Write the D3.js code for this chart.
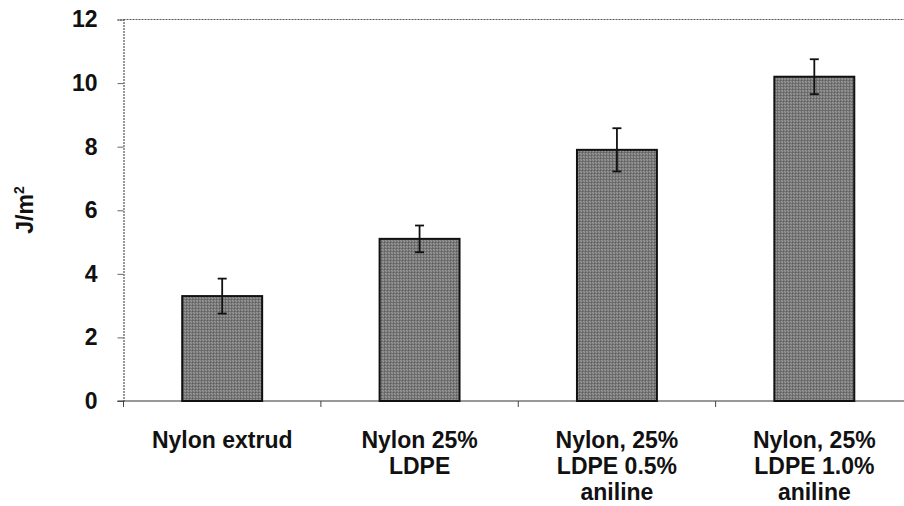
<!DOCTYPE html>
<html>
<head>
<meta charset="utf-8">
<script src="https://cdn.jsdelivr.net/npm/d3@7"></script>
<style>
  body { margin:0; background:#fff; }
  text { font-family: "Liberation Sans", Arial, sans-serif; font-weight: bold; fill:#111; }
</style>
</head>
<body>
<svg id="content" width="904" height="506"></svg>
<script>
// data
const categories = ["Nylon extrud", "Nylon 25%|LDPE", "Nylon, 25%|LDPE 0.5%|aniline", "Nylon, 25%|LDPE 1.0%|aniline"];
const values = [3.3, 5.1, 7.9, 10.2];
const errors = [0.55, 0.42, 0.68, 0.55];
const yTicks = [0, 2, 4, 6, 8, 10, 12];

const config = {
  width: 904, height: 506,
  margin: {top:19.5, right:-9, bottom:105, left:123.5}
};
const fs = 23;

const svg = d3.select("#content");
const innerW = config.width - config.margin.left - config.margin.right;
const innerH = config.height - config.margin.top - config.margin.bottom;

const data = categories.map((c,i) => ({name:c, val:values[i], err:errors[i]}));

const x = d3.scaleBand()
  .domain(categories)
  .range([0, innerW])
  .paddingInner(0.595)
  .paddingOuter(0.2975);

const y = d3.scaleLinear()
  .domain([0, 12])
  .range([innerH, 0]);

// stipple pattern for bars
const defs = svg.append("defs");
const pat = defs.append("pattern")
  .attr("id", "stip")
  .attr("width", 3).attr("height", 3)
  .attr("patternUnits", "userSpaceOnUse");
pat.append("rect").attr("width", 3).attr("height", 3).attr("fill", "#868686");
pat.append("rect").attr("x", 0).attr("y", 0).attr("width", 1).attr("height", 1).attr("fill", "#2a2a2a");
pat.append("rect").attr("x", 2).attr("y", 1).attr("width", 1).attr("height", 1).attr("fill", "#404040");
pat.append("rect").attr("x", 1).attr("y", 2).attr("width", 1).attr("height", 1).attr("fill", "#c8c8c8");

const g = svg.append("g")
  .attr("transform", `translate(${config.margin.left},${config.margin.top})`);

// top frame line
g.append("line")
  .attr("x1", 0).attr("x2", config.width)
  .attr("y1", 0).attr("y2", 0)
  .attr("stroke", "#555").attr("stroke-width", 1)
  .attr("stroke-dasharray", "2,1");

// y axis
const yAxis = g.append("g")
  .call(d3.axisLeft(y).tickValues(yTicks).tickSize(6).tickPadding(20).tickFormat(d3.format("d")));
yAxis.select(".domain").attr("stroke", "#333").attr("stroke-dasharray", "2,1");
yAxis.selectAll(".tick line").attr("stroke", "#666");
yAxis.selectAll(".tick text")
  .attr("font-size", fs)
  .attr("font-family", "Liberation Sans, Arial, sans-serif")
  .attr("font-weight", "bold")
  .attr("fill", "#111");

// x axis
const xTickPos = d3.range(categories.length + 1).map(i => i * x.step());
const xa = g.append("g").attr("transform", `translate(0,${innerH})`);
xa.append("line")
  .attr("x1", -6).attr("x2", config.width)
  .attr("stroke", "#333").attr("stroke-width", 1);
xa.selectAll(".xt")
  .data(xTickPos)
  .enter()
  .append("line")
  .attr("class", "xt")
  .attr("x1", d => d).attr("x2", d => d)
  .attr("y1", 0).attr("y2", 6)
  .attr("stroke", "#444");

// bars
g.selectAll(".bar")
  .data(data)
  .enter()
  .append("rect")
  .attr("class", "bar")
  .attr("x", d => x(d.name))
  .attr("y", d => y(d.val))
  .attr("width", x.bandwidth())
  .attr("height", d => innerH - y(d.val))
  .attr("fill", "url(#stip)")
  .attr("stroke", "#111")
  .attr("stroke-width", 2);

// error bars
const eb = g.selectAll(".err")
  .data(data)
  .enter()
  .append("g")
  .attr("class", "err")
  .attr("transform", d => `translate(${x(d.name) + x.bandwidth()/2},0)`);
eb.append("line")
  .attr("y1", d => y(d.val + d.err)).attr("y2", d => y(d.val - d.err))
  .attr("stroke", "#111").attr("stroke-width", 1.8);
eb.append("line")
  .attr("x1", -4.5).attr("x2", 4.5)
  .attr("y1", d => y(d.val + d.err)).attr("y2", d => y(d.val + d.err))
  .attr("stroke", "#111").attr("stroke-width", 1.8);
eb.append("line")
  .attr("x1", -4.5).attr("x2", 4.5)
  .attr("y1", d => y(d.val - d.err)).attr("y2", d => y(d.val - d.err))
  .attr("stroke", "#111").attr("stroke-width", 1.8);

// category labels
const lab = g.selectAll(".lab")
  .data(data)
  .enter()
  .append("g")
  .attr("class", "lab")
  .attr("transform", d => `translate(${x(d.name) + x.bandwidth()/2},${innerH + 47})`);
lab.each(function(d){
  const lines = d.name.split("|");
  const t = d3.select(this).append("text")
    .attr("text-anchor", "middle")
    .attr("font-size", fs);
  lines.forEach((s,i) => {
    t.append("tspan").attr("x", 0).attr("dy", i === 0 ? 0 : 26).text(s);
  });
});

// y axis title
const yt = svg.append("text")
  .attr("transform", "translate(33,210) rotate(-90)")
  .attr("text-anchor", "middle")
  .attr("font-size", fs);
yt.append("tspan").text("J/m");
yt.append("tspan").attr("font-size", 14).attr("dy", -9).text("2");
</script>
</body>
</html>
